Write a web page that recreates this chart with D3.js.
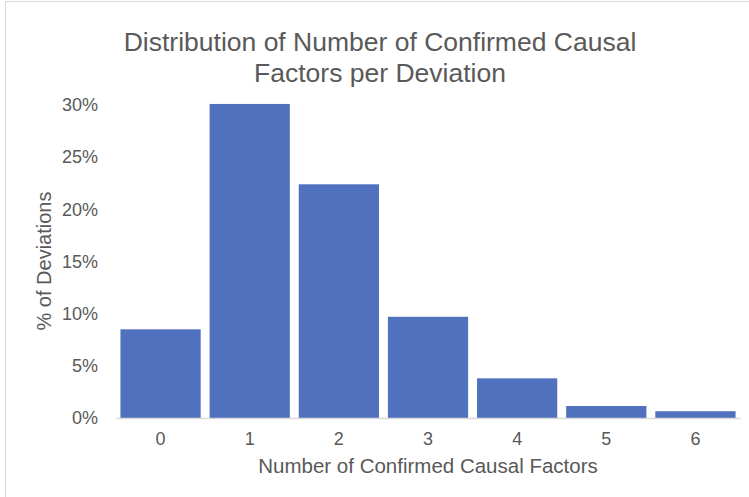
<!DOCTYPE html>
<html>
<head>
<meta charset="utf-8">
<script src="https://cdn.jsdelivr.net/npm/d3@7"></script>
<style>
    body { margin: 0; background: #fff; }
    svg { display: block; font-family: "Liberation Sans", Arial, sans-serif; }
</style>
</head>
<body>
<div id="chart"></div>
<script>
// data
var categories = ["0", "1", "2", "3", "4", "5", "6"];
var pctValues = [8.5, 30.1, 22.4, 9.7, 3.8, 1.15, 0.65];
var yTickValues = [0, 5, 10, 15, 20, 25, 30];
var titleLines = ["Distribution of Number of Confirmed Causal", "Factors per Deviation"];

var W = 749, H = 497
    , margin = {top: 105, right: 9, bottom: 79, left: 116}
    , width = W - margin.left - margin.right
    , height = H - margin.top - margin.bottom
    , textColor = "#595959"
    , barColor = "#4F71BE";

var svg = d3.select("#chart").append("svg")
    .attr("width", W)
    .attr("height", H);

// chart frame (left and top edge visible in the crop)
svg.append("path")
    .attr("d", "M5.5," + H + "V1.5H" + W)
    .attr("fill", "none")
    .attr("stroke", "#d9d9d9");

var g = svg.append("g")
    .attr("transform", "translate(" + margin.left + "," + margin.top + ")");

var x = d3.scaleBand()
    .domain(categories)
    .range([0, width])
    .paddingInner(0.1)
    .paddingOuter(0.05);

var y = d3.scaleLinear()
    .domain([0, 30])
    .range([height, 0]);

g.selectAll(".bar")
    .data(pctValues)
    .enter()
    .append("rect")
    .attr("class", "bar")
    .attr("x", (d, i) => x(categories[i]))
    .attr("width", x.bandwidth())
    .attr("y", d => y(d))
    .attr("height", d => y(0) - y(d))
    .attr("fill", barColor);

var xAxis = d3.axisBottom(x)
    .tickSize(0)
    .tickPadding(14);

var yAxis = d3.axisLeft(y)
    .tickValues(yTickValues)
    .tickSize(0)
    .tickPadding(18)
    .tickFormat(d => d + "%");

var xg = g.append("g")
    .attr("transform", "translate(0," + height + ")")
    .call(xAxis);
xg.select(".domain").attr("stroke", "#d9d9d9").attr("stroke-width", 1.3);
xg.selectAll("text").attr("fill", textColor).attr("font-size", 18).attr("font-family", null);

var yg = g.append("g").call(yAxis);
yg.select(".domain").remove();
yg.selectAll("text").attr("fill", textColor).attr("font-size", 18).attr("font-family", null);

// title
svg.append("text")
    .attr("x", 380)
    .attr("y", 51)
    .attr("text-anchor", "middle")
    .attr("fill", textColor)
    .attr("font-size", 26.5)
    .selectAll("tspan")
    .data(titleLines)
    .enter()
    .append("tspan")
    .attr("x", 380)
    .attr("dy", (d, i) => i ? 31 : 0)
    .text(d => d);

// axis titles
svg.append("text")
    .attr("x", margin.left + width / 2)
    .attr("y", 473)
    .attr("text-anchor", "middle")
    .attr("fill", textColor)
    .attr("font-size", 20.5)
    .text("Number of Confirmed Causal Factors");

svg.append("text")
    .attr("transform", "translate(51,261) rotate(-90)")
    .attr("text-anchor", "middle")
    .attr("fill", textColor)
    .attr("font-size", 20)
    .text("% of Deviations");
</script>
</body>
</html>
